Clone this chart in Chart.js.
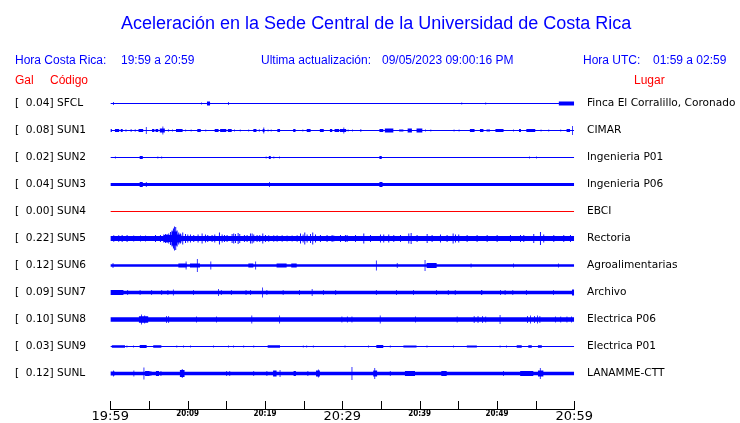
<!DOCTYPE html>
<html><head><meta charset="utf-8">
<script src="https://cdn.jsdelivr.net/npm/chart.js@4"></script>
<style>
body{margin:0;background:#fff;}
#wrap{position:relative;width:740px;height:423px;overflow:hidden;background:#fff;}
canvas{position:absolute;left:0;top:0;}
.t{position:absolute;white-space:pre;font-family:"Liberation Sans",Arial,sans-serif;line-height:1;}
.b{color:#0000ff;font-size:12px;}
.r{color:#ff0000;font-size:12px;}
</style></head><body>
<div id="wrap">
<canvas id="c" width="740" height="423"></canvas>
<div class="t" style="left:121px;top:14px;font-size:18px;color:#0000ff">Aceleración en la Sede Central de la Universidad de Costa Rica</div>
<div class="t b" style="left:15px;top:54px">Hora Costa Rica:</div>
<div class="t b" style="left:121px;top:54px">19:59 a 20:59</div>
<div class="t b" style="left:261px;top:54px">Ultima actualización:</div>
<div class="t b" style="left:382px;top:54px">09/05/2023 09:00:16 PM</div>
<div class="t b" style="left:583px;top:54px">Hora UTC:</div>
<div class="t b" style="left:653px;top:54px">01:59 a 02:59</div>
<div class="t r" style="left:15px;top:74px">Gal</div>
<div class="t r" style="left:50px;top:74px">Código</div>
<div class="t r" style="left:634px;top:74px">Lugar</div>
</div>
<script>
// ---- data ----
const stationCodes = ['SFCL','SUN1','SUN2','SUN3','SUN4','SUN5','SUN6','SUN7','SUN8','SUN9','SUNL'];
const stationPlaces = ['Finca El Corralillo, Coronado','CIMAR','Ingenieria P01','Ingenieria P06','EBCI','Rectoria','Agroalimentarias','Archivo','Electrica P06','Electrica P01','LANAMME-CTT'];
const galValues = [0.04,0.08,0.02,0.04,0.00,0.22,0.12,0.09,0.10,0.03,0.12];
const xTickLabels = ['19:59','20:09','20:19','20:29','20:39','20:49','20:59'];
// background noise half-amplitude per station (display counts)
const noiseLevels = [0.5,0.5,0.5,1.5,0.5,2.6,1.3,1.7,2.3,0.5,1.7];
// bursts: [start minute, end minute, half-amplitude]
const sfclBursts = [[0.35,0.45,1.5],[11.75,11.85,1],[12.5,12.9,2],[15.25,15.35,1.5],[45.4,45.5,1],[48.5,48.6,1],[58.0,60,2]];
const sun1Bursts = [[0,0.2,1.5],[0.6,1.15,1.5],[1.35,1.6,1.5],[1.95,2.1,1],[2.6,2.8,1],[3.15,3.3,1],[3.65,4.25,1.5],[4.6,4.7,3.5],[5.4,5.7,1.5],[5.85,6.2,1.5],[6.4,7.05,2],[6.75,6.85,4],[7.45,7.6,1],[8.0,8.1,1],[8.5,9.35,1.5],[9.7,9.8,1],[10.4,10.5,1],[11.25,11.7,1.5],[12.3,12.4,1],[13.5,14.0,1.5],[14.2,15.0,1.5],[15.2,15.7,1.5],[16.0,16.1,1],[16.75,16.85,1],[17.85,17.95,1],[18.5,18.9,1.5],[19.2,19.35,1],[19.7,19.95,1.5],[19.8,19.9,3],[20.35,20.45,1],[20.75,20.85,1],[21.6,21.95,1.5],[23.65,23.95,1.5],[24.85,24.95,1],[25.4,25.9,1.5],[27.1,27.6,1.5],[28.4,28.7,1.5],[29.0,29.6,1.5],[29.7,30.5,1.5],[30.15,30.25,3],[30.7,30.8,1],[31.25,31.35,1],[32.35,32.45,1.5],[34.8,35.3,1.5],[35.5,36.6,2],[37.35,37.9,1],[38.45,39.0,2],[39.6,40.35,2],[40.7,40.8,1],[41.4,41.5,1],[44.4,44.5,1],[45.05,45.15,1],[46.5,47.1,1.5],[47.8,48.25,1.5],[48.65,49.1,1],[49.8,50.85,1.5],[52.1,52.2,1],[52.85,53.1,1.5],[53.8,54.95,1.5],[55.65,55.75,1],[56.65,56.75,1],[58.2,58.3,1],[59.0,59.45,1.5],[59.7,59.8,4.5]];
const sun2Bursts = [[0.6,0.7,1],[3.8,4.2,1.5],[6.1,6.2,1],[6.6,6.7,1],[20.1,20.2,1],[20.5,20.75,1.5],[21.1,21.2,1],[21.85,21.95,1],[34.8,35.1,1.5],[54.15,54.25,1],[55.05,55.15,1]];
const sun3Bursts = [[3.8,4.2,2.5],[4.6,4.7,2.5],[20.55,20.65,2.5],[34.8,35.2,2.5]];
const sun4Bursts = [];
// SUN5 spikes: [minute, half-amplitude]; broad parts as bursts
const sun5Spikes = [[0.39,3.2],[1.03,3.2],[1.47,3.5],[2.11,3.5],[2.97,3],[3.84,3],[4.48,3],[5.78,3.5],[6.42,3.5],[6.85,4],[7.07,4.5],[7.28,4.5],[7.5,5],[7.72,6.5],[7.93,8],[8.1,10],[8.23,12],[8.4,11.5],[8.58,8],[8.79,6],[9.0,5],[9.31,6],[9.66,4.5],[9.96,4],[10.3,4],[10.73,3.5],[11.29,4],[11.81,5],[12.24,4],[12.54,3.5],[13.1,3.5],[13.45,4],[14.05,6],[14.4,4],[14.7,3.5],[15.04,3.5],[15.69,4.5],[15.9,5],[16.12,4.5],[16.47,5.5],[16.68,4.5],[17.28,3.5],[17.63,3.5],[18.06,5],[18.28,5],[18.49,4],[18.92,3.5],[19.27,3.5],[19.66,5],[20.0,3.5],[20.43,3.2],[21.08,3.2],[21.51,3.2],[22.16,3.2],[22.8,3],[23.45,3],[24.1,3.2],[24.53,5],[24.87,4],[25.09,6],[25.39,4],[25.82,4.5],[26.12,6],[26.47,4],[27.11,3.5],[27.97,3.5],[28.62,3.5],[28.84,3],[29.7,3.5],[30.34,3.5],[30.56,3.5],[31.64,3.5],[32.72,5],[33.58,3.5],[34.87,4],[35.3,4],[35.95,4],[36.6,3.5],[37.46,3.5],[38.54,5],[38.84,5.5],[39.61,3.5],[40.91,4.5],[41.55,3.5],[42.63,4],[43.49,3.5],[44.27,5],[44.57,4],[45.0,4],[46.08,3.5],[47.37,3.5],[48.67,3.5],[49.96,3.5],[51.68,3.5],[52.98,3.5],[53.41,3.5],[54.7,4.5],[55.56,6.5],[55.99,4],[57.29,3.5],[58.58,3.5],[59.44,3.5]];
const sun5Bursts = [[6.9,7.9,3.5],[7.9,8.7,7],[8.7,9.2,4]];
const sun6Bursts = [[0.3,0.4,2.5],[8.8,9.9,2],[9.75,9.85,4],[10.3,11.6,2],[11.2,11.3,6.5],[12.95,13.05,4],[17.85,18.5,2],[18.75,18.85,4],[21.5,22.8,2],[23.4,24.1,2],[34.35,34.45,5],[37.05,37.15,2.5],[40.65,40.75,5.5],[40.9,42.2,2.5],[46.6,46.7,2],[52.1,52.2,2],[57.9,58,2]];
const sun7Bursts = [[0,1.7,2.5],[2.2,2.3,2.5],[3.8,3.9,2.5],[5.3,5.4,2.5],[6.6,6.7,2.5],[7.4,7.5,2.5],[8.1,8.2,3],[10.7,10.8,2.5],[13.95,14.05,3.5],[14.3,14.4,2.5],[15.6,15.7,2.5],[17.5,17.6,2.5],[18.1,18.2,2.5],[19.65,19.75,5],[20.2,20.3,2.5],[22.3,22.4,2.5],[24.4,24.5,2.5],[26.05,26.15,3.5],[27.5,27.6,2.5],[29.1,29.2,2.5],[34.35,34.45,2.5],[36.95,37.05,2.5],[39.15,39.25,2.5],[42.15,42.25,2.5],[43.65,43.75,2.5],[44.55,44.65,2.5],[47.95,48.1,2.5],[50.4,50.5,2.5],[51.0,51.1,2.5],[52.0,52.1,2.5],[53.75,53.85,2.5],[57.25,57.35,2.5],[59.7,60,3]];
const sun8Bursts = [[3.7,4.9,3.2],[4.0,4.1,5],[4.4,4.5,4],[7.2,7.3,3.5],[7.5,7.6,3.5],[11.1,11.2,3],[13.7,13.8,3],[18.25,18.35,4],[21.85,21.95,4],[29.9,30.0,3],[30.6,30.7,3],[31.2,31.3,3],[34.85,34.95,4],[39.4,39.5,3],[44.8,44.9,3],[47.0,47.1,3.5],[47.5,47.6,3.5],[48.1,48.2,3.5],[48.5,48.6,3],[50.35,50.45,4.5],[53.9,54.0,3.5],[54.3,54.4,4],[54.8,54.9,3.5],[55.2,55.3,4],[55.5,55.6,3.5],[57.5,57.6,3],[58.2,58.3,3],[59.0,59.1,3],[59.6,59.7,3]];
const sun9Bursts = [[0.2,1.9,1.2],[2.1,2.2,1],[2.95,3.05,1],[3.8,4.7,1.5],[5.55,6.6,1.2],[8.55,8.65,1],[9.4,9.5,1],[10.3,10.4,1],[13.3,13.4,1],[15.25,15.35,1],[15.9,16.0,1],[17.2,17.3,1],[18.5,18.6,1],[20.35,21.95,1.3],[24.9,25.0,1],[25.35,25.45,1],[26.2,26.3,1],[30.3,30.4,1],[33.35,33.45,1],[34.4,35.3,1.5],[36.15,36.25,1],[37.9,39.6,1],[40.9,41,1],[44.35,44.45,1],[46.1,47.4,1],[50.35,50.45,1],[51.2,51.3,1],[52.55,53.2,1.2],[54.05,54.5,1.2],[55.3,55.8,1.2]];
const sunlBursts = [[0,0.6,2],[0.35,0.45,3],[3.0,3.1,3],[4.3,4.4,6],[4.5,5.1,2.5],[5.2,5.3,2.5],[5.9,6.3,2.5],[6.5,6.6,2.5],[9.0,9.6,3.5],[9.25,9.35,4.5],[15.0,15.1,2.5],[15.4,15.5,2.5],[18.5,18.6,2.5],[20.2,20.3,2.5],[21.05,21.5,3],[21.9,22.0,3.5],[23.7,24.0,2.5],[25.5,25.6,2.5],[26.6,27.1,3],[26.85,26.95,4],[31.2,31.3,6.5],[34.0,34.5,3],[34.15,34.25,5.5],[36.15,36.25,2.5],[38.1,39.4,2.5],[42.8,43.5,2.5],[50.8,50.9,2.5],[53.0,54.7,2.5],[55.3,56.0,3],[55.55,55.65,5.5]];
const stationBursts = [sfclBursts,sun1Bursts,sun2Bursts,sun3Bursts,sun4Bursts,sun5Bursts.concat(sun5Spikes.map(([t,a])=>[t,t+0.12,a])),sun6Bursts,sun7Bursts,sun8Bursts,sun9Bursts,sunlBursts];

// ---- style ----
const traceColors = stationCodes.map(c => c === 'SUN4' ? '#ff0000' : '#0000ff');
const SPACING = 27;
const X_MIN = 0, X_MAX = 60;

function envelope(base, bursts){
  const cuts = new Set([X_MIN, X_MAX]);
  bursts.forEach(([s,e]) => { cuts.add(s); cuts.add(Math.min(e, X_MAX)); });
  const xs = [...cuts].sort((a,b)=>a-b);
  const pts = [];
  xs.forEach((x,k) => {
    let a = base;
    if (k < xs.length-1) {
      bursts.forEach(([s,e,amp]) => { if (s <= x && x < e && amp > a) a = amp; });
    } else if (pts.length) {
      a = pts[pts.length-1].a;
    }
    pts.push({x, a});
  });
  return pts;
}

const datasets = [];
stationCodes.forEach((code,i) => {
  const c = i*SPACING;
  const env = envelope(noiseLevels[i], stationBursts[i]);
  const common = {type:'line', stepped:true, pointRadius:0, borderWidth:0, borderColor:'rgba(0,0,0,0)', backgroundColor:traceColors[i], yAxisID:'yL', xAxisID:'x', tension:0};
  datasets.push(Object.assign({label:code+'+', data: env.map(p=>({x:p.x, y:c - p.a})), fill:false}, common));
  datasets.push(Object.assign({label:code+'-', data: env.map(p=>({x:p.x, y:c + p.a})), fill:'-1'}, common));
});

const stationTicks = stationCodes.map((_,i)=>({value:i*SPACING}));
const yCommon = {
  type:'linear', reverse:true, min:-13.5, max:305.5,
  grid:{display:false, drawTicks:false}, border:{display:false},
  afterBuildTicks: s => { s.ticks = stationTicks.map(t=>({value:t.value})); }
};

const tickMarks = {
  id:'tickMarks',
  afterDraw(chart){
    const xs = chart.scales.x, ctx = chart.ctx, b = chart.chartArea.bottom;
    ctx.save(); ctx.strokeStyle = '#000'; ctx.lineWidth = 1;
    xs.ticks.forEach(t => {
      const px = Math.round(xs.getPixelForValue(t.value)) + 0.5;
      ctx.beginPath(); ctx.moveTo(px, b); ctx.lineTo(px, b-8); ctx.stroke();
    });
    ctx.restore();
  }
};

new Chart(document.getElementById('c'), {
  type:'line',
  data:{datasets},
  options:{
    responsive:false, animation:false, events:[],
    layout:{padding:{top:90,left:15,right:0,bottom:0}},
    plugins:{legend:{display:false}, tooltip:{enabled:false}, title:{display:false}},
    scales:{
      x:{type:'linear', min:X_MIN, max:X_MAX,
         grid:{display:false, drawTicks:false},
         border:{display:true, color:'#000', width:1},
         afterFit: s => { s.height = 14; },
         ticks:{stepSize:5, autoSkip:false, maxRotation:0, padding:0, color:'#000',
           callback: v => (v % 10 === 0) ? xTickLabels[v/10] : '',
           font: ctx => (ctx.tick && ctx.tick.value % 30 === 0)
             ? {family:'DejaVu Sans', size:13}
             : {family:"'DejaVu Sans Condensed', 'DejaVu Sans'", size:8, weight:'bold'}
         }},
      yL: Object.assign({}, yCommon, {position:'left',
         afterFit: s => { s.width = 95.3; s.paddingTop = 0; s.paddingBottom = 0; },
         ticks:{crossAlign:'far', padding:0, color:'#000', font:{family:'DejaVu Sans', size:10.6},
           callback: (v, idx) => '[  ' + galValues[idx].toFixed(2) + '] ' + stationCodes[idx]}}),
      yR: Object.assign({}, yCommon, {position:'right',
         afterFit: s => { s.width = 165.7; s.paddingTop = 0; s.paddingBottom = 0; },
         ticks:{crossAlign:'near', padding:12.7, color:'#000', font:{family:'DejaVu Sans', size:10.6},
           callback: (v, idx) => stationPlaces[idx]}})
    }
  },
  plugins:[tickMarks]
});
</script>
</body></html>
